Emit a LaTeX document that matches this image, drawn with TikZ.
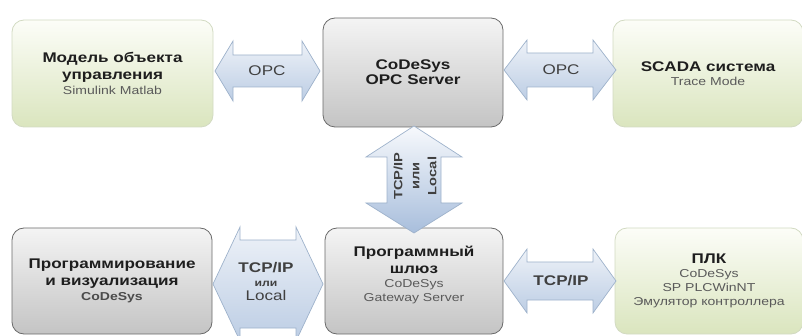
\documentclass[tikz,border=0pt]{standalone}
\usepackage{fontspec}
\setmainfont{Liberation Sans}[FakeStretch=1.22]
\usetikzlibrary{calc}
\definecolor{gtop}{HTML}{FCFDF8}
\definecolor{gbot}{HTML}{DAE5BE}
\definecolor{gline}{HTML}{D2DAC2}
\definecolor{ktop}{HTML}{F4F4F4}
\definecolor{kbot}{HTML}{C4C4C4}
\definecolor{kline}{HTML}{6A6A6A}
\definecolor{atop}{HTML}{EEF2F8}
\definecolor{abot}{HTML}{BCCDE4}
\definecolor{aline}{HTML}{9EB2CB}
\definecolor{vtop}{HTML}{F7F9FC}
\definecolor{vbot}{HTML}{A8BEDC}
\definecolor{titlec}{HTML}{1E1E1E}
\definecolor{subc}{HTML}{5A5A5A}
\tikzset{
  boxbase/.style={rounded corners=12pt, align=center, inner sep=2pt,
    font=\fontsize{14}{17}\selectfont\bfseries, text=titlec, line width=0.8pt},
  greenbox/.style={boxbase, draw=gline, top color=gtop, bottom color=gbot},
  graybox/.style={boxbase, draw=kline, top color=ktop, bottom color=kbot},
  boxtext/.style={align=center, inner sep=2pt, font=\fontsize{14}{17}\selectfont\bfseries, text=titlec},
  arrowshape/.style={draw=aline, line width=0.7pt, top color=atop, bottom color=abot},
  varrowshape/.style={draw=aline, line width=0.7pt, top color=vtop, bottom color=vbot},
  arrowtext/.style={align=center, text=titlec!85, inner sep=0pt},
}
\newcommand\subt[1]{{\fontsize{11.5}{14}\selectfont\mdseries\color{subc}#1}}
% horizontal double arrow: x1, x2, yc, head length, head half height, shaft half height
\newcommand\harrow[6]{%
  \draw[arrowshape] (#1,#3) -- (#1+#4,#3-#5) -- (#1+#4,#3-#6) -- (#2-#4,#3-#6) -- (#2-#4,#3-#5)
    -- (#2,#3) -- (#2-#4,#3+#5) -- (#2-#4,#3+#6) -- (#1+#4,#3+#6) -- (#1+#4,#3+#5) -- cycle;}
\begin{document}
\begin{tikzpicture}[x=1pt,y=-1pt]
\useasboundingbox (0,0) rectangle (802,336);
\clip (0,0) rectangle (802,336);

% boxes
\node[greenbox, minimum width=201pt, minimum height=107pt] (model) at (112.5,73.5)
  {Модель объекта\\управления\\[-2pt]\subt{Simulink Matlab}};
\node[graybox, minimum width=180pt, minimum height=109pt] (opcsrv) at (413,72.5)
  {CoDeSys\\[-2pt]OPC Server};
\node[greenbox, minimum width=190pt, minimum height=107pt] (scada) at (708,73.5)
  {SCADA система\\[-3pt]\subt{Trace Mode}};
\node[graybox, minimum width=200pt, minimum height=106pt] (prog) at (112,281)
  {Программирование\\и визуализация\\[-2pt]{\fontsize{11.5}{14}\selectfont\bfseries\color{titlec!80}CoDeSys}};
\node[graybox, minimum width=178pt, minimum height=106pt] (gate) at (414,281) {};
\node[boxtext] (gatetext) at ($(gate.center)+(0,-6)$)
  {Программный\\шлюз\\[-3pt]\subt{CoDeSys}\\[-3pt]\subt{Gateway Server}};
\node[greenbox, minimum width=188pt, minimum height=106pt] (plc) at (709,281)
  {ПЛК\\[-3pt]\subt{CoDeSys}\\[-3pt]\subt{SP PLCWinNT}\\[-3pt]\subt{Эмулятор контроллера}};

% horizontal arrows
\harrow{215}{320}{71}{18}{30}{16}
\node[arrowtext, font=\fontsize{14}{17}\selectfont] (opc1) at (267,71) {OPC};
\harrow{504}{616}{70}{23}{30}{17}
\node[arrowtext, font=\fontsize{14}{17}\selectfont] (opc2) at (561,70) {OPC};
\harrow{213}{323}{284}{27}{57}{44}
\node[arrowtext, font=\fontsize{14}{17}\selectfont] (tcp1) at (266,281)
  {\bfseries TCP/IP\\[-3pt]{\fontsize{10}{12}\selectfont\bfseries или}\\[-3pt]Local};
\harrow{504}{616}{281}{23}{32}{19}
\node[arrowtext, font=\fontsize{14}{17}\selectfont\bfseries] (tcp2) at (561,281) {TCP/IP};

% vertical arrow
\draw[varrowshape] (414,126) -- (462,157) -- (441,157) -- (441,203) -- (462,203) -- (414,233)
  -- (366,203) -- (387,203) -- (387,157) -- (366,157) -- cycle;
\node[arrowtext, rotate=90, font=\fontsize{12}{17}\selectfont\bfseries] (tcpv) at (415,176)
  {TCP/IP\\или\\Local};
\end{tikzpicture}
\end{document}
